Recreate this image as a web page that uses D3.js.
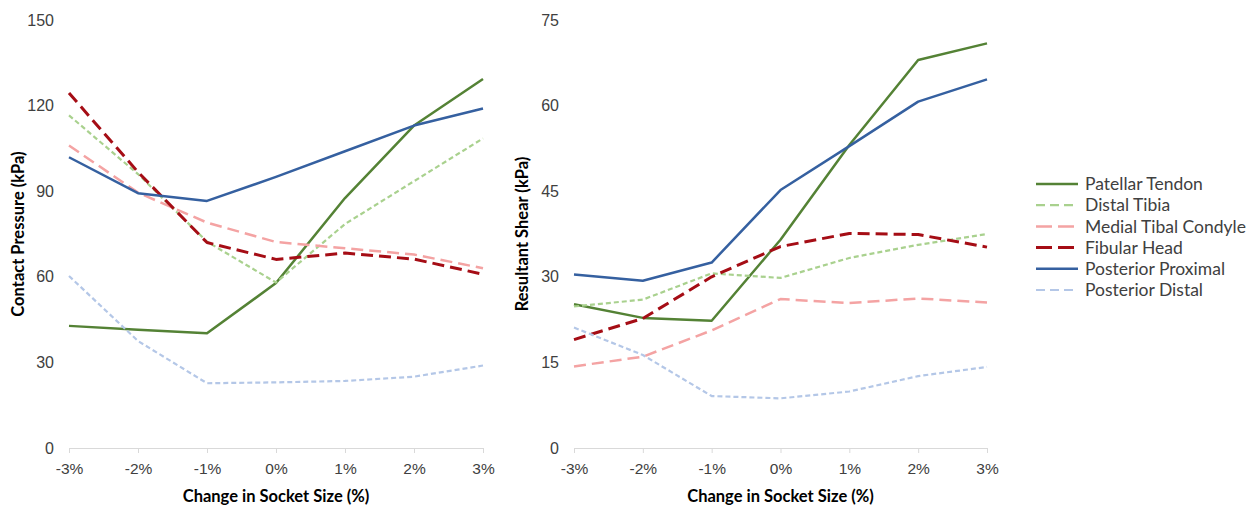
<!DOCTYPE html>
<html>
<head>
<meta charset="utf-8">
<script src="https://cdn.jsdelivr.net/npm/d3@7"></script>
<style>
  html, body { margin: 0; padding: 0; background: #fff; }
  svg { display: block; font-family: Lato, "Open Sans", sans-serif; }
</style>
</head>
<body>
<svg id="chart" width="1252" height="508"></svg>
<script>
// Socket-size change categories (x axis)
const sizes = ["-3%", "-2%", "-1%", "0%", "1%", "2%", "3%"];

const seriesNames = ["Patellar Tendon", "Distal Tibia", "Medial Tibal Condyle",
                     "Fibular Head", "Posterior Proximal", "Posterior Distal"];

// Contact pressure (kPa)
const pressurePatellarTendon   = [42.8, 41.4, 40.2, 57.8, 87.6, 113.0, 129.3];
const pressureDistalTibia      = [116.6, 96.0, 72.3, 58.0, 78.5, 93.5, 108.5];
const pressureMedialTibial     = [106.0, 89.5, 79.0, 72.2, 70.0, 67.8, 63.0];
const pressureFibularHead      = [124.4, 96.7, 72.0, 66.1, 68.3, 66.2, 60.9];
const pressurePosteriorProx    = [101.9, 89.3, 86.6, 95.0, 104.0, 113.0, 119.0];
const pressurePosteriorDistal  = [60.3, 37.5, 22.7, 23.0, 23.5, 25.0, 28.9];

// Resultant shear (kPa)
const shearPatellarTendon  = [25.2, 22.8, 22.3, 36.5, 53.1, 68.0, 70.9];
const shearDistalTibia     = [24.8, 26.0, 30.6, 29.8, 33.3, 35.6, 37.5];
const shearMedialTibial    = [14.3, 16.0, 20.6, 26.1, 25.4, 26.2, 25.5];
const shearFibularHead     = [19.0, 22.7, 30.0, 35.3, 37.6, 37.4, 35.2];
const shearPosteriorProx   = [30.4, 29.3, 32.5, 45.2, 52.9, 60.7, 64.6];
const shearPosteriorDistal = [21.1, 16.3, 9.1, 8.7, 9.9, 12.6, 14.2];

const pressureTicks = [0, 30, 60, 90, 120, 150];
const shearTicks = [0, 15, 30, 45, 60, 75];

// Line styling per series (same order as seriesNames)
const styles = [
  { color: "#548235", width: 2.5, dash: null },
  { color: "#A9D18E", width: 2.2, dash: "5,3" },
  { color: "#F4A3A3", width: 2.5, dash: "12,6" },
  { color: "#A50D15", width: 3,   dash: "12,6" },
  { color: "#3560A0", width: 2.5, dash: null },
  { color: "#B4C7E7", width: 2.2, dash: "5,3" }
];

const svg = d3.select("#chart");

function drawPanel(opts) {
  const { left, right, top, bottom, ticks, series, yTitle, yTitleX } = opts;
  const x = d3.scalePoint().domain(sizes).range([left, right]);
  const y = d3.scaleLinear().domain([ticks[0], ticks[ticks.length - 1]]).range([bottom, top]);
  const g = svg.append("g");

  // y tick labels (no axis line, no gridlines)
  const yAxis = g.append("g")
    .attr("transform", `translate(${left - 15},0)`)
    .call(d3.axisLeft(y).tickValues(ticks).tickSize(0).tickPadding(0));
  yAxis.select(".domain").remove();
  yAxis.selectAll("text")
    .attr("fill", "#404040").attr("font-size", 16);

  // x axis with light gray baseline and ticks
  const xAxis = g.append("g")
    .attr("transform", `translate(0,${bottom})`)
    .call(d3.axisBottom(x).tickSize(5).tickPadding(10).tickSizeOuter(0));
  xAxis.select(".domain").attr("stroke", "#D9D9D9").attr("stroke-width", 1);
  xAxis.selectAll(".tick line").attr("stroke", "#D9D9D9");
  xAxis.selectAll("text").attr("fill", "#404040").attr("font-size", 15.5);

  // series lines
  const line = d3.line().x((d, i) => x(sizes[i])).y(d => y(d));
  series.forEach((vals, i) => {
    const s = styles[i];
    g.append("path")
      .datum(vals)
      .attr("d", line)
      .attr("fill", "none")
      .attr("stroke", s.color)
      .attr("stroke-width", s.width)
      .attr("stroke-dasharray", s.dash)
      .attr("stroke-linejoin", "round");
  });

  // axis titles
  g.append("text")
    .attr("x", (left + right) / 2).attr("y", bottom + 54)
    .attr("text-anchor", "middle")
    .attr("font-size", 16.5).attr("font-weight", "bold").attr("fill", "#000")
    .text("Change in Socket Size (%)");
  g.append("text")
    .attr("transform", `translate(${yTitleX},${(top + bottom) / 2}) rotate(-90)`)
    .attr("text-anchor", "middle")
    .attr("font-size", 16.5).attr("font-weight", "bold").attr("fill", "#000")
    .text(yTitle);
}

drawPanel({
  left: 69, right: 483, top: 20, bottom: 448,
  ticks: pressureTicks,
  series: [pressurePatellarTendon, pressureDistalTibia, pressureMedialTibial,
           pressureFibularHead, pressurePosteriorProx, pressurePosteriorDistal],
  yTitle: "Contact Pressure (kPa)", yTitleX: 24
});

drawPanel({
  left: 574, right: 987, top: 20, bottom: 448,
  ticks: shearTicks,
  series: [shearPatellarTendon, shearDistalTibia, shearMedialTibial,
           shearFibularHead, shearPosteriorProx, shearPosteriorDistal],
  yTitle: "Resultant Shear (kPa)", yTitleX: 528
});

// legend
const legend = svg.append("g").attr("transform", "translate(1036,184)");
seriesNames.forEach((name, i) => {
  const s = styles[i];
  const row = legend.append("g").attr("transform", `translate(0,${i * 21.2})`);
  row.append("line")
    .attr("x1", 0).attr("x2", 42).attr("y1", 0).attr("y2", 0)
    .attr("stroke", s.color).attr("stroke-width", s.width)
    .attr("stroke-dasharray", s.dash ? (s.dash === "5,3" ? "9,5" : "16,6") : null);
  row.append("text")
    .attr("x", 49).attr("y", 0).attr("dy", "0.35em")
    .attr("font-size", 17.5).attr("fill", "#404040")
    .text(name);
});
</script>
</body>
</html>
